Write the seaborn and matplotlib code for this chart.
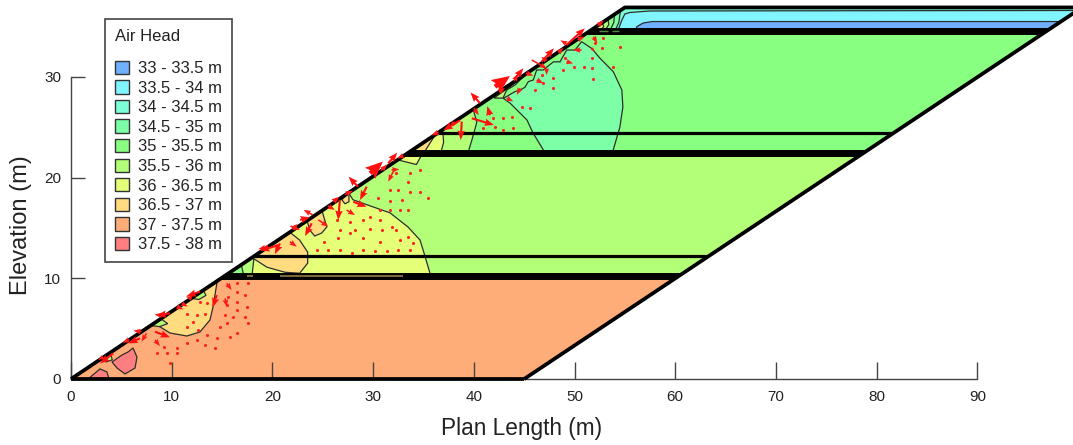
"""
Air head contours on the embankment section
"""
import matplotlib
matplotlib.use('Agg')
import matplotlib.pyplot as plt
import seaborn as sns
from matplotlib.patches import Patch, Polygon

# legend classes
head_labels = ['33 - 33.5 m', '33.5 - 34 m', '34 - 34.5 m', '34.5 - 35 m', '35 - 35.5 m',
               '35.5 - 36 m', '36 - 36.5 m', '36.5 - 37 m', '37 - 37.5 m', '37.5 - 38 m']
head_colors = ['#70b0ff', '#80f4ff', '#7cffd8', '#7dffa8', '#88ff80',
               '#b4ff78', '#e6ff78', '#ffdc80', '#ffad78', '#ff7f80']
x_ticks = [0, 10, 20, 30, 40, 50, 60, 70, 80, 90]
y_ticks = [0, 10, 20, 30]

# section outline (m)
section = [(0, 0), (45, 0), (100.4, 36.9), (55, 36.9)]
layer_1 = [(0, 0), (45, 0), (60.4, 10.2), (15.2, 10.2)]
layer_2 = [(15.2, 10.2), (60.4, 10.2), (78.6, 22.4), (33.4, 22.4)]
layer_3 = [(33.4, 22.4), (78.6, 22.4), (96.8, 34.55), (51.6, 34.55)]
layer_4 = [(51.6, 34.55), (96.8, 34.55), (100.4, 36.9), (55, 36.9)]

# contour regions (m)
yellow_dome = [(15.2, 10.2), (35.8, 10.2), (35.65, 10.5), (35.06, 12.5), (34.66, 13.8), (33.46, 15.1),
               (31.68, 16.5), (29.4, 17.3), (28.0, 17.8), (27.5, 18.6)]
blob_low = [(8.0, 5.5), (8.54, 5.36), (9.83, 4.57), (11.5, 4.27), (12.8, 4.67), (13.8, 5.86),
            (14.1, 7.15), (14.5, 9.6)]
pink_1 = [(4.07, 1.69), (5.06, 2.38), (5.66, 2.68), (6.16, 3.08), (6.55, 2.18), (6.36, 1.09),
          (5.36, 0.5), (4.57, 1.09)]
pink_2 = [(1.69, 0.0), (2.88, 1.0), (3.57, 0.7), (3.77, 0.0)]
blob_mid_1 = [(18.07, 12.0), (19.46, 11.1), (21.25, 10.6), (22.7, 10.5), (23.5, 11.5), (23.5, 12.6),
              (22.7, 13.8), (21.7, 14.6), (18.0, 12.3)]
blob_mid_2 = [(23.7, 14.8), (24.2, 14.2), (24.9, 14.5), (25.4, 15.1), (24.9, 16.8), (23.4, 15.9)]
blob_mid_3 = [(26.9, 17.8), (27.2, 17.4), (27.6, 17.6), (27.6, 18.6)]
blob_mid_4 = [(33.0, 22.4), (34.9, 22.4), (34.3, 21.3), (32.3, 21.8)]
sliver_lime = [(15.2, 10.2), (17.9, 10.2), (18.0, 10.5), (18.2, 12.3)]
sliver_green = [(15.2, 10.2), (17.1, 10.2), (17.1, 10.5), (16.9, 11.4)]
slope_lime_1 = [(8.0, 5.3), (8.8, 5.2), (9.6, 5.5), (8.9, 6.0)]
slope_lime_2 = [(12.0, 8.0), (12.7, 7.9), (13.4, 8.3), (13.1, 8.9)]
slope_lime_3 = [(2.9, 1.9), (3.5, 1.7), (4.1, 1.9), (3.9, 2.6)]
upper_lime = [(33.4, 22.4), (39.4, 22.4), (39.8, 23.7), (40.3, 25.5), (39.9, 26.9)]
upper_yellow = [(33.4, 22.4), (36.7, 22.4), (37.0, 23.5), (36.9, 24.9)]
upper_orange = [(33.4, 22.4), (35.0, 22.4), (36.2, 24.3)]
slope_strip = [(42.0, 27.9), (42.9, 27.9), (43.26, 28.7), (44.1, 29.2), (45.1, 30.2), (46.4, 31.35),
               (47.9, 32.0), (49.2, 33.0), (50.9, 34.0), (51.6, 34.8)]
upper_dome = [(46.97, 22.4), (46.97, 22.64), (45.88, 24.43), (45.28, 25.72), (43.6, 27.4), (42.93, 27.87),
              (44.09, 28.54), (44.59, 28.7), (45.08, 28.97), (45.41, 29.53), (45.91, 29.7), (46.24, 30.69),
              (46.9, 30.69), (47.9, 31.5), (48.56, 31.5), (49.22, 32.67), (50.05, 32.67), (50.7, 33.5),
              (51.7, 32.84), (52.53, 31.85), (53.85, 30.52), (54.7, 28.7),
              (54.8, 27.0), (54.5, 25.0), (53.8, 22.6), (53.7, 22.4)]
top_cyan = [(54.3, 34.55), (54.7, 35.65), (55.0, 36.25), (55.5, 36.4), (57.5, 36.55), (100.4, 36.6),
            (96.8, 34.55)]
top_blue = [(56.0, 34.55), (56.2, 35.0), (56.8, 35.35), (57.7, 35.5), (98.25, 35.5), (96.8, 34.55)]
top_band_1 = [(51.6, 34.55), (54.0, 34.55), (54.4, 35.4), (54.6, 36.9)]
top_band_2 = [(51.6, 34.55), (53.5, 34.55), (53.9, 35.4), (54.0, 36.5)]
top_band_3 = [(51.6, 34.55), (53.0, 34.55), (53.4, 35.2), (53.3, 36.0)]
top_band_4 = [(51.6, 34.55), (52.5, 34.55), (52.9, 35.0), (52.7, 35.5)]

# seepage vectors: start and components (m)
big_x = [42.1, 29.7]
big_y = [29.03, 20.43]
big_u = [1.49, 1.26]
big_v = [1.06, 1.16]
mid_x = [49.2, 46.74, 44.09, 40.6, 39.8, 38.8, 38.63, 41.6, 28.5, 26.7, 31.5, 29.36, 28.03,
         22.74, 23.9, 20.6, 20.75, 26.05, 12.8, 14.47, 9.83, 8.34, 6.85, 4.2]
mid_y = [33.17, 31.52, 29.86, 27.4, 25.89, 25.56, 25.7, 26.2, 19.1, 17.78, 21.42, 19.1, 17.6,
         15.8, 15.46, 13.3, 13.47, 17.6, 8.67, 8.34, 6.52, 4.7, 4.04, 2.55]
mid_u = [1.82, 1.22, 0.83, -0.93, 2.2, -0.1, -1.65, -0.26, -0.93, -0.17, 0.9, -0.66, 1.32,
         0.99, -0.66, -1.82, -0.5, 0.6, -1.32, -0.4, -1.32, 1.49, -1.16, -1.32]
mid_v = [1.65, 1.32, 1.0, 1.06, -0.66, -1.82, -1.0, 0.9, 0.99, -1.99, 1.06, -1.32, -0.5,
         0.26, -1.26, -0.56, -1.06, 0.5, -0.43, -1.22, -0.23, -0.56, -0.5, -1.0]
small_x = [45.75, 49.2, 50.7, 47.23, 44.6, 43.26, 46.24, 49.2, 51.7, 51.87, 27.37, 21.8, 24.56,
           21.75, 31.84, 32.0, 15.46, 15.3, 7.5, 8.34, 10.5,
           5.8, 7.0, 9.2, 11.0, 12.0, 3.2, 19.5, 22.0, 24.0, 25.5, 27.2, 30.8, 33.0, 36.5, 37.7,
           40.0, 42.5, 44.0, 45.2, 47.2, 48.4, 50.3, 52.3]
small_y = [31.68, 33.3, 32.67, 30.85, 28.87, 27.9, 29.7, 31.52, 32.84, 34.0, 16.78, 15.2, 15.8,
           13.64, 20.76, 20.6, 9.5, 8.0, 4.54, 3.87, 7.18,
           3.9, 4.7, 6.3, 7.5, 8.0, 2.2, 13.1, 14.9, 16.3, 17.2, 18.3, 20.7, 22.2, 24.5, 25.3,
           26.9, 28.5, 29.6, 30.4, 31.6, 32.4, 33.7, 35.1]
small_u = [1.5, -0.6, -0.83, 0.0, -0.33, 0.66, 0.66, 0.66, 0.33, 0.4, 0.83, 0.93, 0.99,
           0.66, 0.76, -0.5, 0.5, 0.17, -0.5, 0.5, 0.66,
           -0.7, -0.8, -0.9, 0.6, -0.6, -0.5, -0.9, 0.5, -0.9, 0.7, 0.8, 0.6, -0.6, -0.7, 0.8,
           0.5, 0.6, 0.4, 0.7, -0.5, 0.5, 0.7, 0.6]
small_v = [-0.83, 0.33, 0.0, -0.66, -0.66, -0.33, -0.33, -0.17, -0.33, -0.66, -0.5, -0.4, -0.66,
           -0.5, 0.07, -1.0, -0.66, -0.83, -0.83, -0.6, -0.26,
           -0.3, 0.1, 0.1, -0.3, 0.2, -0.3, -0.2, 0.5, 0.5, -0.4, 0.4, 0.6, -0.3, -0.3, 0.2,
           -0.7, 0.4, 0.7, -0.3, 0.4, 0.5, 0.3, 0.5]

# tiny vectors shown as red dots
dot_x = [16.45, 17.6, 16.45, 15.6, 17.3, 16.45, 15.46, 17.45, 16.45, 15.3, 16.1, 17.3, 17.6, 15.46,
         14.8, 13.5, 14.5, 15.8, 16.45, 12.48, 13.3, 14.3, 11.5, 10.5, 9.2, 9.5, 10.5, 8.5, 9.8,
         11.5, 12.5, 13.3, 12.15, 11.5, 12.65, 13.5, 12.8,
         24.4, 25.55, 26.7, 27.87, 29.0, 30.2, 31.35, 32.5, 33.66,
         25.1, 26.5, 27.7, 29.0, 30.7, 32.7, 34.0,
         26.7, 28.2, 29.7, 30.85, 32.3, 33.5,
         27.7, 29.0, 29.7, 30.7, 31.85, 26.4,
         30.7, 31.7, 32.7, 33.5,
         31.7, 32.5, 33.66, 34.66, 35.5, 32.9, 31.7, 30.5,
         33.66, 34.66, 33.5, 32.3,
         41.94, 42.93, 43.76, 43.92, 42.93, 40.94, 42.1, 44.75, 45.58, 46.08, 47.9, 46.9, 46.74,
         47.9, 48.9, 49.9, 50.9, 51.7, 51.87, 49.06, 51.7, 52.7, 54.5, 53.85, 52.86, 52.03]
dot_y = [9.5, 9.5, 8.67, 8.18, 8.34, 7.68, 7.35, 7.18, 6.85, 6.36, 6.19, 6.19, 5.53, 5.53,
         5.2, 4.37, 4.04, 4.2, 4.54, 3.87, 3.38, 3.05, 3.55, 3.05, 3.2, 2.55, 2.55, 2.55, 1.56,
         6.5, 6.36, 6.5, 5.7, 5.2, 4.87, 7.5, 7.68,
         12.81, 12.81, 12.81, 12.5, 12.81, 12.75, 12.75, 12.81, 12.81,
         13.64, 13.97, 14.5, 13.97, 13.64, 13.8, 13.5,
         14.8, 14.8, 14.85, 14.8, 14.8, 14.15,
         15.6, 15.79, 16.05, 15.79, 15.1, 15.79,
         16.79, 16.79, 16.79, 16.79,
         18.77, 18.77, 18.6, 18.6, 17.94, 17.78, 17.7, 17.94,
         20.43, 20.75, 19.6, 20.43,
         25.89, 25.89, 26.05, 24.9, 24.73, 24.9, 25.06, 27.05, 26.95, 28.7, 28.94, 29.4, 30.2,
         29.86, 30.7, 31.02, 31.02, 30.85, 29.8, 31.85, 31.85, 32.84, 33.0, 31.0, 33.83, 33.34]

sns.set_style('white')
plt.rcParams['font.family'] = ['Liberation Sans', 'DejaVu Sans']
plt.rcParams['axes.unicode_minus'] = False

fig = plt.figure(figsize=(10.73, 4.45), dpi=100)
ax = fig.add_axes([68.0 / 1073, (445 - 382.0) / 445, (1073 - 68.0) / 1073, 382.0 / 445])
ax.set_xlim(-0.298, 99.5)
ax.set_ylim(-0.298, 37.64)
ax.set_axisbelow(False)

clip = Polygon(section, closed=True, transform=ax.transData)
EDGE = '#2e2e2e'


def fill_region(points, color, edge=True):
    """윤곽 영역 하나 채우기"""
    xs, ys = zip(*points)
    patches = ax.fill(xs, ys, facecolor=color, edgecolor=EDGE if edge else color,
                      linewidth=0.9 if edge else 0.0, zorder=2 if edge else 1)
    for patch in patches:
        patch.set_clip_path(clip)


fill_region(layer_1, head_colors[8], edge=False)
fill_region(layer_2, head_colors[5], edge=False)
fill_region(layer_3, head_colors[4], edge=False)
fill_region(layer_4, head_colors[2], edge=False)

fill_region(yellow_dome, head_colors[6])
fill_region(sliver_lime, head_colors[5])
fill_region(sliver_green, head_colors[4])
fill_region(blob_low, head_colors[7])
fill_region(pink_1, head_colors[9])
fill_region(pink_2, head_colors[9])
fill_region(blob_mid_1, head_colors[7])
fill_region(blob_mid_2, head_colors[7])
fill_region(blob_mid_3, head_colors[7])
fill_region(blob_mid_4, head_colors[6])
fill_region(slope_lime_1, head_colors[5])
fill_region(slope_lime_2, head_colors[5])
fill_region(slope_lime_3, head_colors[5])
fill_region(upper_lime, head_colors[5])
fill_region(upper_yellow, head_colors[6])
fill_region(upper_orange, head_colors[7])
fill_region(slope_strip, head_colors[5])
fill_region(upper_dome, head_colors[3])
fill_region(top_cyan, head_colors[1])
fill_region(top_blue, head_colors[0])
fill_region(top_band_1, head_colors[3])
fill_region(top_band_2, head_colors[4])
fill_region(top_band_3, head_colors[5])
fill_region(top_band_4, head_colors[6])


def draw_line(xs, ys, width, color='black', z=3, clipped=False):
    """구조선 그리기"""
    before = len(ax.lines)
    sns.lineplot(x=xs, y=ys, color=color, linewidth=width, sort=False, estimator=None,
                 legend=False, ax=ax, zorder=z, solid_capstyle='butt')
    if clipped:
        for line in ax.lines[before:]:
            line.set_clip_path(clip)


# slope, base and layer lines
draw_line([0, 55, 100.4], [0, 36.9, 36.9], 2.7)
draw_line([0, 45], [0, 0], 2.7)
draw_line([45, 100.4], [0, 36.9], 2.7)
draw_line([13.0, 63.0], [10.2, 10.2], 5.0, clipped=True)
draw_line([16.0, 66.0], [12.2, 12.2], 2.3, clipped=True)
draw_line([31.0, 81.0], [22.4, 22.4], 5.0, clipped=True)
draw_line([34.0, 84.0], [24.4, 24.4], 2.3, clipped=True)
draw_line([49.0, 99.0], [34.55, 34.55], 5.0, clipped=True)

# thin strips left inside the thick lines
draw_line([20.75, 33.0], [10.2, 10.2], 1.3, color='#857440', z=3.1)
draw_line([17.5, 18.1], [10.2, 10.2], 1.3, color='#857440', z=3.1)
draw_line([52.4, 53.3], [34.6, 34.6], 1.0, color='#4f8a48', z=3.1)
draw_line([53.7, 54.4], [34.6, 34.6], 1.0, color='#4f8a48', z=3.1)

sns.scatterplot(x=dot_x, y=dot_y, color='#ff2020', s=5, linewidth=0, legend=False, ax=ax, zorder=4)

ax.quiver(small_x, small_y, small_u, small_v, angles='xy', scale_units='xy', scale=1, color='#ff1a1a',
          width=0.0016, headwidth=3.5, headlength=4.5, headaxislength=4, zorder=4.2)
ax.quiver(mid_x, mid_y, mid_u, mid_v, angles='xy', scale_units='xy', scale=1, color='#ff1010',
          width=0.0021, headwidth=3.5, headlength=4.5, headaxislength=4, zorder=4.3)
ax.quiver(big_x, big_y, big_u, big_v, angles='xy', scale_units='xy', scale=1, color='#ff1010',
          width=0.0045, headwidth=3.5, headlength=4.0, headaxislength=3.5, zorder=4.4)

# axis, ticks point inward
for side in ['top', 'right']:
    ax.spines[side].set_visible(False)
ax.spines['left'].set_position(('data', 0))
ax.spines['bottom'].set_position(('data', 0))
ax.spines['left'].set_bounds(0, 30)
ax.spines['bottom'].set_bounds(0, 90)
for side in ['left', 'bottom']:
    ax.spines[side].set_color('#444444')
    ax.spines[side].set_linewidth(1.0)
    ax.spines[side].set_zorder(2.5)
ax.set_xticks(x_ticks)
ax.set_yticks(y_ticks)
ax.tick_params(axis='x', direction='in', length=12, width=1.0, color='#444444', pad=8,
               labelsize=11, labelcolor='#222222', bottom=True)
ax.tick_params(axis='y', direction='in', length=10, width=1.0, color='#444444', pad=7,
               labelsize=11, labelcolor='#222222', left=True)
ax.set_xlabel('Plan Length (m)', fontsize=16.3, color='#222222')
ax.set_ylabel('Elevation (m)', fontsize=17, color='#222222')
ax.xaxis.set_label_coords((522 - 68) / 1005.0, (382 - 429) / 382.0)
ax.yaxis.set_label_coords((21 - 68) / 1005.0, (382 - 225) / 382.0)
ax.xaxis.label.set_verticalalignment('center')
ax.yaxis.label.set_verticalalignment('center')

handles = [Patch(facecolor=c, edgecolor='#333333', linewidth=1.0) for c in head_colors]
legend = ax.legend(handles, head_labels, title='Air Head', loc='upper left',
                   bbox_to_anchor=(105 / 1073, 1 - 19 / 445), bbox_transform=fig.transFigure,
                   fontsize=12, title_fontsize=12, alignment='left', fancybox=False,
                   framealpha=1, edgecolor='#444444', handlelength=0.85, handleheight=0.85,
                   handletextpad=0.55, labelspacing=0.25, borderpad=0.6, borderaxespad=0)
# gap between the title and the first row
legend._legend_box.sep = 12
legend.get_frame().set_linewidth(1.2)
legend.set_zorder(6)
for text in legend.get_texts():
    text.set_color('#222222')
legend.get_title().set_color('#222222')

fig.savefig('out.png', dpi=100)
